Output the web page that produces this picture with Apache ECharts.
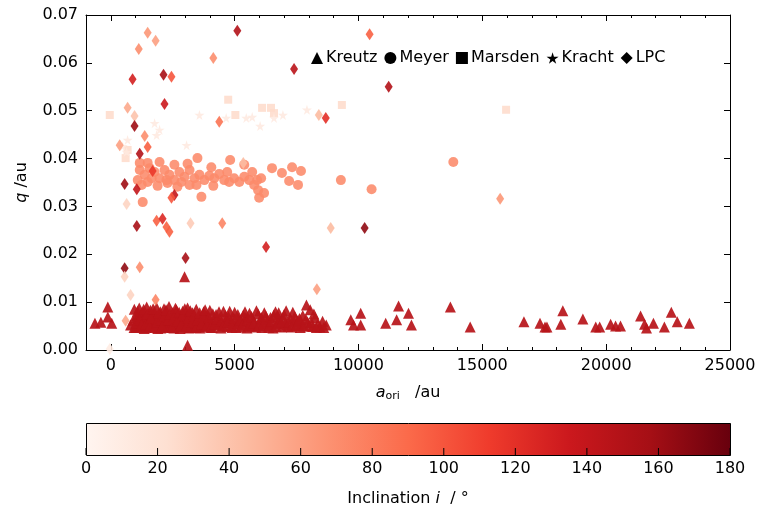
<!DOCTYPE html>
<html><head><meta charset="utf-8">
<script src="https://cdn.jsdelivr.net/npm/echarts@6/dist/echarts.min.js"></script>
<style>html,body{margin:0;padding:0;background:#fff}#c{width:759px;height:510px}</style>
</head><body><div id="c"></div>
<script>
// ---- data: [a_ori (au), q (au), inclination (deg)] ----
const kreutzIncl = 147, meyerIncl = 72, marsdenIncl = 26, krachtIncl = 13;
const kreutz = [
 [-640,0.0056],[-400,0.0058],[-120,0.0090],[-120,0.0069],[40,0.0056],
 [800,0.0052],[900,0.0062],[950,0.0085],[1000,0.0047],[1050,0.0072],[1100,0.0058],[1150,0.0088],[1200,0.0050],[1250,0.0066],[1300,0.0079],[1350,0.0045],[1400,0.0061],[1450,0.0090],[1500,0.0054],[1550,0.0070],[1600,0.0083],[1650,0.0048],[1700,0.0063],[1750,0.0076],[1800,0.0056],[1850,0.0089],[1900,0.0045],[1950,0.0068],[2000,0.0080],[2050,0.0052],[2100,0.0060],[2150,0.0086],[2200,0.0047],[2250,0.0073],[2300,0.0057],[2350,0.0091],[2400,0.0050],[2450,0.0065],[2500,0.0078],[2550,0.0046],[2600,0.0059],[2650,0.0084],[2700,0.0053],[2750,0.0069],[2800,0.0045],[2850,0.0062],[2900,0.0081],[2950,0.0049],[3000,0.0057],[3050,0.0072],[3100,0.0088],[3150,0.0046],[3200,0.0064],[3250,0.0053],[3300,0.0078],[3350,0.0048],[3400,0.0060],[3450,0.0085],[3500,0.0051],[3550,0.0068],[3600,0.0046],[3700,0.0058],[3750,0.0080],[3800,0.0049],[3900,0.0065],[3950,0.0054],[4000,0.0083],[4100,0.0047],[4150,0.0061],[4250,0.0074],[4300,0.0052],[4400,0.0066],[4450,0.0046],[4550,0.0081],[4600,0.0057],[4700,0.0049],[4750,0.0070],[4850,0.0062],[4900,0.0047],[5000,0.0079],[5100,0.0055],[5150,0.0066],[5250,0.0048],[5350,0.0073],[5400,0.0058],[5500,0.0046],[5600,0.0077],[5650,0.0054],[5750,0.0064],[5850,0.0048],[5950,0.0075],[6000,0.0056],[6100,0.0047],[6200,0.0078],[6300,0.0059],[6350,0.0050],[6450,0.0068],[6550,0.0046],[6650,0.0080],[6700,0.0055],[6800,0.0063],[6900,0.0048],[7000,0.0074],[7050,0.0057],[7150,0.0049],[7250,0.0066],[7350,0.0079],[7450,0.0051],[7550,0.0061],[7650,0.0047],[7750,0.0072],[7900,0.0094],[7950,0.0058],[8050,0.0084],[8150,0.0049],[8250,0.0068],[8350,0.0054],[8450,0.0048],[8700,0.0052],
 [1120,0.0049],[1280,0.0055],[1420,0.0047],[1580,0.0058],[1720,0.0051],[1880,0.0062],[2020,0.0046],[2180,0.0055],[2320,0.0049],[2480,0.0058],[2620,0.0050],[2780,0.0056],[2920,0.0048],[3080,0.0055],[3220,0.0047],[3380,0.0056],[3520,0.0049],[3680,0.0052],[1060,0.0068],[1220,0.0075],[1380,0.0070],[1540,0.0064],[1680,0.0073],[1830,0.0067],[1980,0.0074],[2130,0.0066],[2280,0.0070],[2430,0.0062],[2580,0.0071],[2730,0.0064],[2880,0.0069],[3030,0.0063],[3180,0.0071],[3330,0.0066],[3480,0.0060],[3630,0.0067],[3850,0.0072],[4050,0.0058],[4350,0.0055],[4650,0.0063],[4950,0.0056],[5200,0.0060],[5450,0.0068],[5700,0.0050],[6050,0.0064],[6400,0.0057],[6750,0.0070],[7100,0.0053],[7400,0.0060],[7700,0.0054],[8000,0.0050],
 [940,0.0047],[1010,0.0056],[1080,0.0081],[1160,0.0063],[1240,0.0052],[1330,0.0085],[1410,0.0054],[1490,0.0076],[1570,0.0049],[1630,0.0067],[1710,0.0086],[1790,0.0047],[1860,0.0058],[1930,0.0077],[2010,0.0063],[2080,0.0049],[2160,0.0071],[2230,0.0084],[2310,0.0063],[2390,0.0076],[2470,0.0047],[2540,0.0068],[2610,0.0087],[2690,0.0060],[2760,0.0079],[2840,0.0052],[2910,0.0074],[2990,0.0086],[3060,0.0050],[3140,0.0067],[3210,0.0082],[3290,0.0058],[3370,0.0074],[3440,0.0047],[3510,0.0063],[3590,0.0078],[3660,0.0055],[3730,0.0070],[3810,0.0084],[3880,0.0051],[3960,0.0069],[4030,0.0047],[4120,0.0076],[4200,0.0054],[4280,0.0064],[4370,0.0080],[4460,0.0060],[4520,0.0050],[4630,0.0072],[4720,0.0058],[4800,0.0081],[4880,0.0051],[4970,0.0067],[5060,0.0047],[5130,0.0074],[5230,0.0062],[5320,0.0052],[5420,0.0080],[5520,0.0062],[5580,0.0050],[5680,0.0070],[5780,0.0056],[5880,0.0082],[5980,0.0051],[6080,0.0068],[6160,0.0055],[6260,0.0071],[6380,0.0047],[6480,0.0060],[6580,0.0073],[6680,0.0049],[6780,0.0078],[6880,0.0058],[6960,0.0066],[7080,0.0082],[7200,0.0058],[7300,0.0048],[7430,0.0070],[7520,0.0052],[7620,0.0066],[7800,0.0050],[7880,0.0064],[8100,0.0058],[8200,0.0075],[8300,0.0047],[8550,0.0060],[8600,0.0047],
 [2980,0.0153],[3100,0.0010],
 [9690,0.0063],[9800,0.0052],[10090,0.0077],[10090,0.0052],[11100,0.0056],[11540,0.0063],[11620,0.0092],[12020,0.0077],[12140,0.0052],
 [13710,0.0090],[14510,0.0048],[16680,0.0059],[17330,0.0056],[17530,0.0048],[17610,0.0048],[18170,0.0054],[18250,0.0082],[19060,0.0065],[19580,0.0048],[19740,0.0048],[20180,0.0054],[20380,0.0050],[20580,0.0050],[21390,0.0071],[21550,0.0054],[21630,0.0046],[21910,0.0056],[22350,0.0048],[22630,0.0079],[22870,0.0059],[23360,0.0056]
];
const meyer = [
 [3500,0.0401],[4820,0.0397],[4060,0.0382],[5390,0.0387],[6510,0.0380],[6910,0.0370],[7320,0.0382],[7680,0.0374],[7200,0.0353],[7560,0.0345],[9290,0.0355],[10530,0.0336],[13830,0.0393],[5710,0.0372],[5910,0.0355],[5990,0.0318],[1290,0.0309],[3660,0.0320],[4700,0.0372],[5950,0.0334],[6190,0.0328],[5790,0.0345],[6070,0.0359],
 [1170,0.0376],[1370,0.0366],[1570,0.0380],[1770,0.0372],[1970,0.0359],[2170,0.0376],[2370,0.0366],[2570,0.0355],[2770,0.0372],[2980,0.0362],[3180,0.0376],[3380,0.0359],[3580,0.0366],[3780,0.0355],[3980,0.0364],[4180,0.0359],[4380,0.0368],[4580,0.0355],[4980,0.0359],[5190,0.0351],[5390,0.0362],[5590,0.0355],[1090,0.0355],[1250,0.0345],[1490,0.0351],[1650,0.0359],[1890,0.0343],[2290,0.0349],[2690,0.0341],[3180,0.0345],[3100,0.0389],[2570,0.0387],[1970,0.0393],[1490,0.0391],[1170,0.0391],[2250,0.0355],[2850,0.0351],[3460,0.0345],[4140,0.0343],[4780,0.0351]
];
const marsden = [
 [-40,0.0491],[4740,0.0523],[5030,0.0491],[6110,0.0506],[6470,0.0506],[6590,0.0495],[9330,0.0512],[15960,0.0502],[680,0.0418],[600,0.0401]
];
const kracht = [
 [1770,0.0474],[1850,0.0449],[3060,0.0428],[3580,0.0491],[4660,0.0485],[5470,0.0485],[5710,0.0487],[6030,0.0468],[6590,0.0485],[6950,0.0491],[7920,0.0502],[680,0.0439],[640,0.0414],[480,0.0426],[1970,0.0460]
];
const lpc = [
 [1490,0.0663,65],[1810,0.0646,60],[1130,0.0629,70],[5110,0.0667,150],[10450,0.0660,95],[4140,0.0610,70],[7400,0.0587,145],[11220,0.0550,150],[880,0.0566,130],[2130,0.0575,155],[2450,0.0571,100],[2170,0.0514,135],[680,0.0506,55],[960,0.0489,40],[960,0.0468,160],[4380,0.0477,85],[8680,0.0485,120],[8400,0.0491,45],[1370,0.0447,70],[1490,0.0424,95],[1170,0.0410,150],[360,0.0428,60],[5350,0.0391,45],[1690,0.0374,115],[560,0.0347,160],[1050,0.0336,140],[640,0.0305,30],[2570,0.0324,140],[2450,0.0318,100],[1050,0.0259,155],[1850,0.0270,95],[2090,0.0274,125],[2250,0.0257,95],[2370,0.0247,95],[3220,0.0265,35],[4500,0.0265,75],[6270,0.0215,130],[3020,0.0192,155],[560,0.0171,165],[1170,0.0173,70],[560,0.0153,30],[800,0.0115,30],[1810,0.0105,75],[600,0.0061,55],[8320,0.0127,60],[8880,0.0255,45],[10250,0.0255,165],[15720,0.0316,65],[-40,0.0002,10]
];
const xTicks = [0,5000,10000,15000,20000,25000];
const cbTicks = [0,20,40,60,80,100,120,140,160,180];
const redsColors = ['#fff5f0','#fee0d2','#fcbba1','#fc9272','#fb6a4a','#ef3b2c','#cb181d','#a50f15','#67000d'];

const withIncl = (arr, inc) => arr.map(p => [p[0], p[1], inc]);
const starPath = 'path://M50,0 L61,35 L98,35 L68,57 L79,91 L50,70 L21,91 L32,57 L2,35 L39,35 Z';
const FONT = 'DejaVu Sans';
const tickFont = {fontFamily: FONT, fontSize: 16, color: '#000'};

const chart = echarts.init(document.getElementById('c'), null, {renderer: 'canvas'});
const axisLine = {show: true, onZero: false, lineStyle: {color: '#000', width: 1}};
const stops = redsColors.map((c, i) => ({offset: i / (redsColors.length - 1), color: c}));
const cb = {left: 86, top: 423, width: 644, height: 32};

const option = {
  animation: false,
  backgroundColor: '#fff',
  graphic: [{
    type: 'rect', left: cb.left, top: cb.top, z: -100, silent: true,
    shape: {width: cb.width, height: cb.height},
    style: {fill: new echarts.graphic.LinearGradient(0, 0, 1, 0, stops), stroke: '#000', lineWidth: 1}
  }],
  grid: [
    {left: 86, right: 29, top: 15, bottom: 160},
    {left: cb.left, width: cb.width, top: cb.top, height: cb.height}
  ],
  xAxis: [
    {type: 'value', gridIndex: 0, min: -1000, max: 25000, position: 'bottom',
     axisLine, splitLine: {show: false},
     axisTick: {show: true, inside: true, length: 6, customValues: xTicks, lineStyle: {color: '#000'}},
     axisLabel: {show: true, customValues: xTicks, formatter: v => String(v), margin: 8, ...tickFont},
     name: '{i|a}{sub|ori}   /au', nameLocation: 'middle', nameGap: 33,
     nameTextStyle: {fontFamily: FONT, fontSize: 16, color: '#000',
       rich: {i: {fontFamily: FONT, fontSize: 16, fontStyle: 'italic', color: '#000'},
              sub: {fontFamily: FONT, fontSize: 11, color: '#000', padding: [8, 0, 0, 0]}}}},
    {type: 'value', gridIndex: 0, min: -1000, max: 25000, interval: 1000, position: 'bottom',
     axisLine: {show: false, onZero: false}, splitLine: {show: false}, axisLabel: {show: false},
     axisTick: {show: true, inside: true, length: 3, lineStyle: {color: '#000'}}},
    {type: 'value', gridIndex: 0, min: -1000, max: 25000, position: 'top',
     axisLine, splitLine: {show: false}, axisLabel: {show: false},
     axisTick: {show: true, inside: true, length: 6, customValues: xTicks, lineStyle: {color: '#000'}}},
    {type: 'value', gridIndex: 0, min: -1000, max: 25000, interval: 1000, position: 'top',
     axisLine: {show: false, onZero: false}, splitLine: {show: false}, axisLabel: {show: false},
     axisTick: {show: true, inside: true, length: 3, lineStyle: {color: '#000'}}},
    {type: 'value', gridIndex: 1, min: 0, max: 180, interval: 20, position: 'bottom',
     axisLine: {show: false, onZero: false}, splitLine: {show: false},
     axisTick: {show: false},
     axisLabel: {show: true, margin: 6, ...tickFont},
     name: 'Inclination {i|i}  / °', nameLocation: 'middle', nameGap: 36,
     nameTextStyle: {fontFamily: FONT, fontSize: 16, color: '#000',
       rich: {i: {fontFamily: FONT, fontSize: 16, fontStyle: 'italic', color: '#000'}}}}
  ],
  yAxis: [
    {type: 'value', gridIndex: 0, min: 0, max: 0.07, interval: 0.01, position: 'left',
     axisLine, splitLine: {show: false},
     axisTick: {show: true, inside: true, length: 6, lineStyle: {color: '#000'}},
     axisLabel: {show: true, formatter: v => v.toFixed(2), margin: 8, ...tickFont},
     name: '{i|q} /au', nameLocation: 'middle', nameGap: 56, nameRotate: 90,
     nameTextStyle: {fontFamily: FONT, fontSize: 16, color: '#000',
       rich: {i: {fontFamily: FONT, fontSize: 16, fontStyle: 'italic', color: '#000'}}}},
    {type: 'value', gridIndex: 0, min: 0, max: 0.07, interval: 0.01, position: 'right',
     axisLine, splitLine: {show: false}, axisLabel: {show: false},
     axisTick: {show: true, inside: true, length: 6, lineStyle: {color: '#000'}}},
    {type: 'value', gridIndex: 1, min: 0, max: 1, show: false}
  ],
  visualMap: {
    type: 'continuous', show: false, dimension: 2, min: 0, max: 180,
    seriesIndex: [0, 1, 2, 3, 4], inRange: {color: redsColors}
  },
  legend: {
    left: 306, top: 45, itemGap: 7, itemWidth: 12, itemHeight: 12,
    selectedMode: false,
    textStyle: {fontFamily: FONT, fontSize: 16, color: '#000', padding: [0, 0, 0, -2]},
    data: [
      {name: 'Kreutz', icon: 'triangle', itemStyle: {color: '#000', opacity: 1}},
      {name: 'Meyer', icon: 'circle', itemStyle: {color: '#000', opacity: 1}},
      {name: 'Marsden', icon: 'rect', itemStyle: {color: '#000', opacity: 1}},
      {name: 'Kracht', icon: starPath, itemStyle: {color: '#000', opacity: 1}},
      {name: 'LPC', icon: 'diamond', itemStyle: {color: '#000', opacity: 1}}
    ]
  },
  series: [
    {name: 'Kreutz', type: 'scatter', xAxisIndex: 0, yAxisIndex: 0, symbol: 'triangle', symbolSize: 11,
     itemStyle: {opacity: 0.92}, data: withIncl(kreutz, kreutzIncl)},
    {name: 'Meyer', type: 'scatter', xAxisIndex: 0, yAxisIndex: 0, symbol: 'circle', symbolSize: 10,
     itemStyle: {opacity: 0.88}, data: withIncl(meyer, meyerIncl)},
    {name: 'Marsden', type: 'scatter', xAxisIndex: 0, yAxisIndex: 0, symbol: 'rect', symbolSize: 8,
     itemStyle: {opacity: 0.85}, data: withIncl(marsden, marsdenIncl)},
    {name: 'Kracht', type: 'scatter', xAxisIndex: 0, yAxisIndex: 0, symbol: starPath, symbolSize: 10,
     itemStyle: {opacity: 0.85}, data: withIncl(kracht, krachtIncl)},
    {name: 'LPC', type: 'scatter', xAxisIndex: 0, yAxisIndex: 0, symbol: 'diamond', symbolSize: [8, 12],
     itemStyle: {opacity: 0.9}, data: lpc},
    // colorbar tick marks, placed through the colorbar's own 0–180 scale
    {name: 'cbTicks', type: 'scatter', xAxisIndex: 4, yAxisIndex: 2, silent: true, z: 10,
     symbol: 'rect', symbolSize: [1, 7], symbolOffset: [0, -3.5], clip: false,
     itemStyle: {color: '#000', opacity: 1},
     data: cbTicks.map(v => [v, 0])}
  ]
};
chart.setOption(option);
</script></body></html>
